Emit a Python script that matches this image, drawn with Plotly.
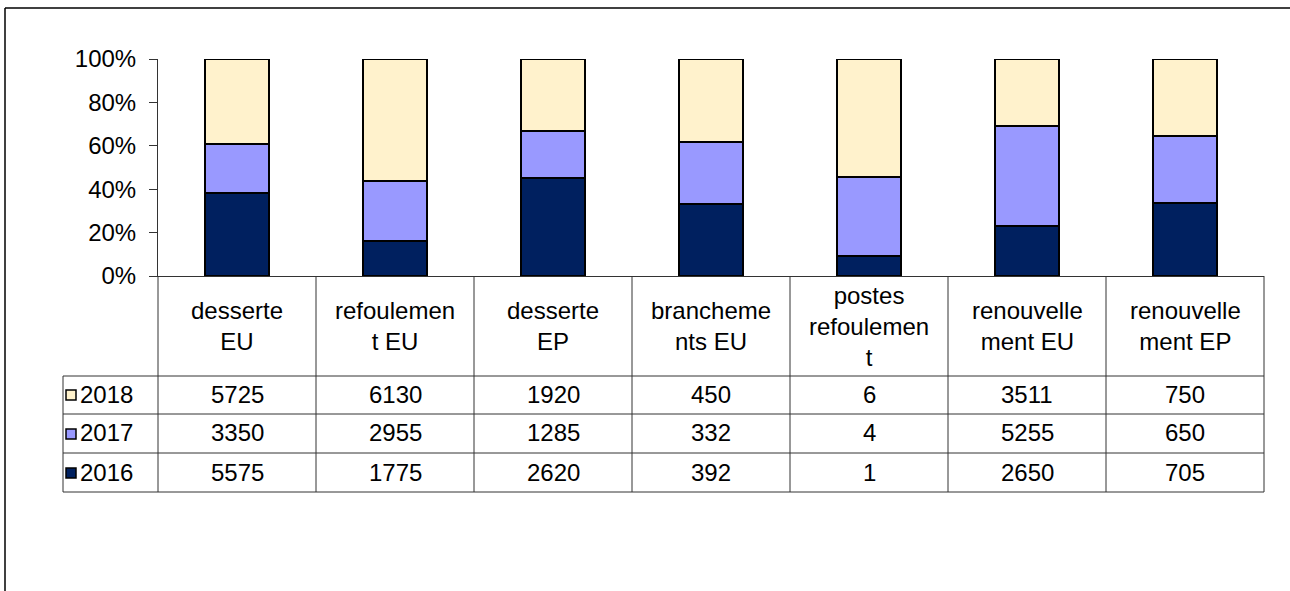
import plotly.graph_objects as go

# ---------------- data ----------------
categories = ["desserte EU", "refoulement EU", "desserte EP", "branchements EU",
              "postes refoulement", "renouvellement EU", "renouvellement EP"]
category_labels = ["desserte<br>EU", "refoulemen<br>t EU", "desserte<br>EP",
                   "brancheme<br>nts EU", "postes<br>refoulemen<br>t",
                   "renouvelle<br>ment EU", "renouvelle<br>ment EP"]
years = ["2016", "2017", "2018"]
values_2016 = [5575, 1775, 2620, 392, 1, 2650, 705]
values_2017 = [3350, 2955, 1285, 332, 4, 5255, 650]
values_2018 = [5725, 6130, 1920, 450, 6, 3511, 750]
y_tick_values = [0, 20, 40, 60, 80, 100]
y_tick_labels = ["0%", "20%", "40%", "60%", "80%", "100%"]

series = {"2016": values_2016, "2017": values_2017, "2018": values_2018}
colors = {"2016": "#00205F", "2017": "#9999FF", "2018": "#FFF2CC"}

# ---------------- layout geometry (pixels) ----------------
W, H = 1290, 591
PL, PR, PT, PB = 158, 1264, 59, 276  # plot area box
FONT = "Liberation Sans, Arial, sans-serif"
FS = 24
LINE = "#333333"


def px_x(px):
    return (px - PL) / (PR - PL)


def px_y(py):
    return (PB - py) / (PB - PT)


fig = go.Figure()
for yr in years:
    fig.add_trace(go.Bar(
        x=categories, y=series[yr], name=yr,
        marker=dict(color=colors[yr], line=dict(color="#000000", width=2)),
        showlegend=False,
    ))

shapes = []
annotations = []

# outer chart frame (left and top edges visible)
shapes.append(dict(type="line", xref="paper", yref="paper",
                   x0=px_x(5), x1=px_x(1300), y0=px_y(8), y1=px_y(8),
                   line=dict(color="#000000", width=1.5)))
shapes.append(dict(type="line", xref="paper", yref="paper",
                   x0=px_x(5), x1=px_x(5), y0=px_y(8), y1=px_y(600),
                   line=dict(color="#000000", width=1.5)))

# data-table grid
row_lines = [376, 414, 453, 492]
n = len(categories)
for i in range(n + 1):
    shapes.append(dict(type="line", xref="x domain", yref="paper",
                       x0=i / n, x1=i / n, y0=px_y(PB), y1=px_y(492),
                       line=dict(color=LINE, width=1)))
shapes.append(dict(type="line", xref="paper", yref="paper",
                   x0=px_x(63), x1=px_x(63), y0=px_y(376), y1=px_y(492),
                   line=dict(color=LINE, width=1)))
for r in row_lines:
    shapes.append(dict(type="line", xref="paper", yref="paper",
                       x0=px_x(63), x1=1, y0=px_y(r), y1=px_y(r),
                       line=dict(color=LINE, width=1)))

# header labels
for cat, lab in zip(categories, category_labels):
    annotations.append(dict(x=cat, xref="x", y=px_y(326), yref="paper",
                            text=lab, showarrow=False, yanchor="middle",
                            xanchor="center", align="center",
                            font=dict(family=FONT, size=FS, color="#000")))

# table rows: 2018 top, 2017, 2016
row_centers = {"2018": 394, "2017": 433, "2016": 472}
for yr in ["2018", "2017", "2016"]:
    cy = row_centers[yr]
    shapes.append(dict(type="rect", xref="paper", yref="paper",
                       x0=px_x(66), x1=px_x(76), y0=px_y(cy - 4), y1=px_y(cy + 6),
                       fillcolor=colors[yr], line=dict(color="#000000", width=1.5)))
    annotations.append(dict(x=px_x(78), xref="paper", y=px_y(cy), yref="paper",
                            text=yr, showarrow=False, xanchor="left",
                            yanchor="middle",
                            font=dict(family=FONT, size=FS, color="#000")))
    for cat, v in zip(categories, series[yr]):
        annotations.append(dict(x=cat, xref="x", y=px_y(cy), yref="paper",
                                text=str(v), showarrow=False, xanchor="center",
                                yanchor="middle",
                                font=dict(family=FONT, size=FS, color="#000")))

fig.update_layout(
    width=W, height=H,
    margin=dict(l=PL, r=W - PR, t=PT, b=H - PB, pad=0),
    barmode="stack", barnorm="percent", bargap=0.6,
    plot_bgcolor="#ffffff", paper_bgcolor="#ffffff",
    shapes=shapes, annotations=annotations,
    font=dict(family=FONT, size=FS, color="#000"),
)
fig.update_xaxes(showticklabels=False, showgrid=False, showline=True,
                 linecolor=LINE, linewidth=1, ticks="", zeroline=False)
fig.update_yaxes(range=[0, 100], tickmode="array", tickvals=y_tick_values,
                 ticktext=y_tick_labels, ticklabelstandoff=8,
                 showgrid=False, showline=True, linecolor=LINE, linewidth=1,
                 ticks="outside", ticklen=8, tickcolor=LINE, zeroline=False,
                 tickfont=dict(family=FONT, size=FS, color="#000"))

fig.write_html("out.html",
               config={"displayModeBar": False},
               post_script="document.body.style.margin='0';"
                           "document.body.style.overflow='hidden';")
